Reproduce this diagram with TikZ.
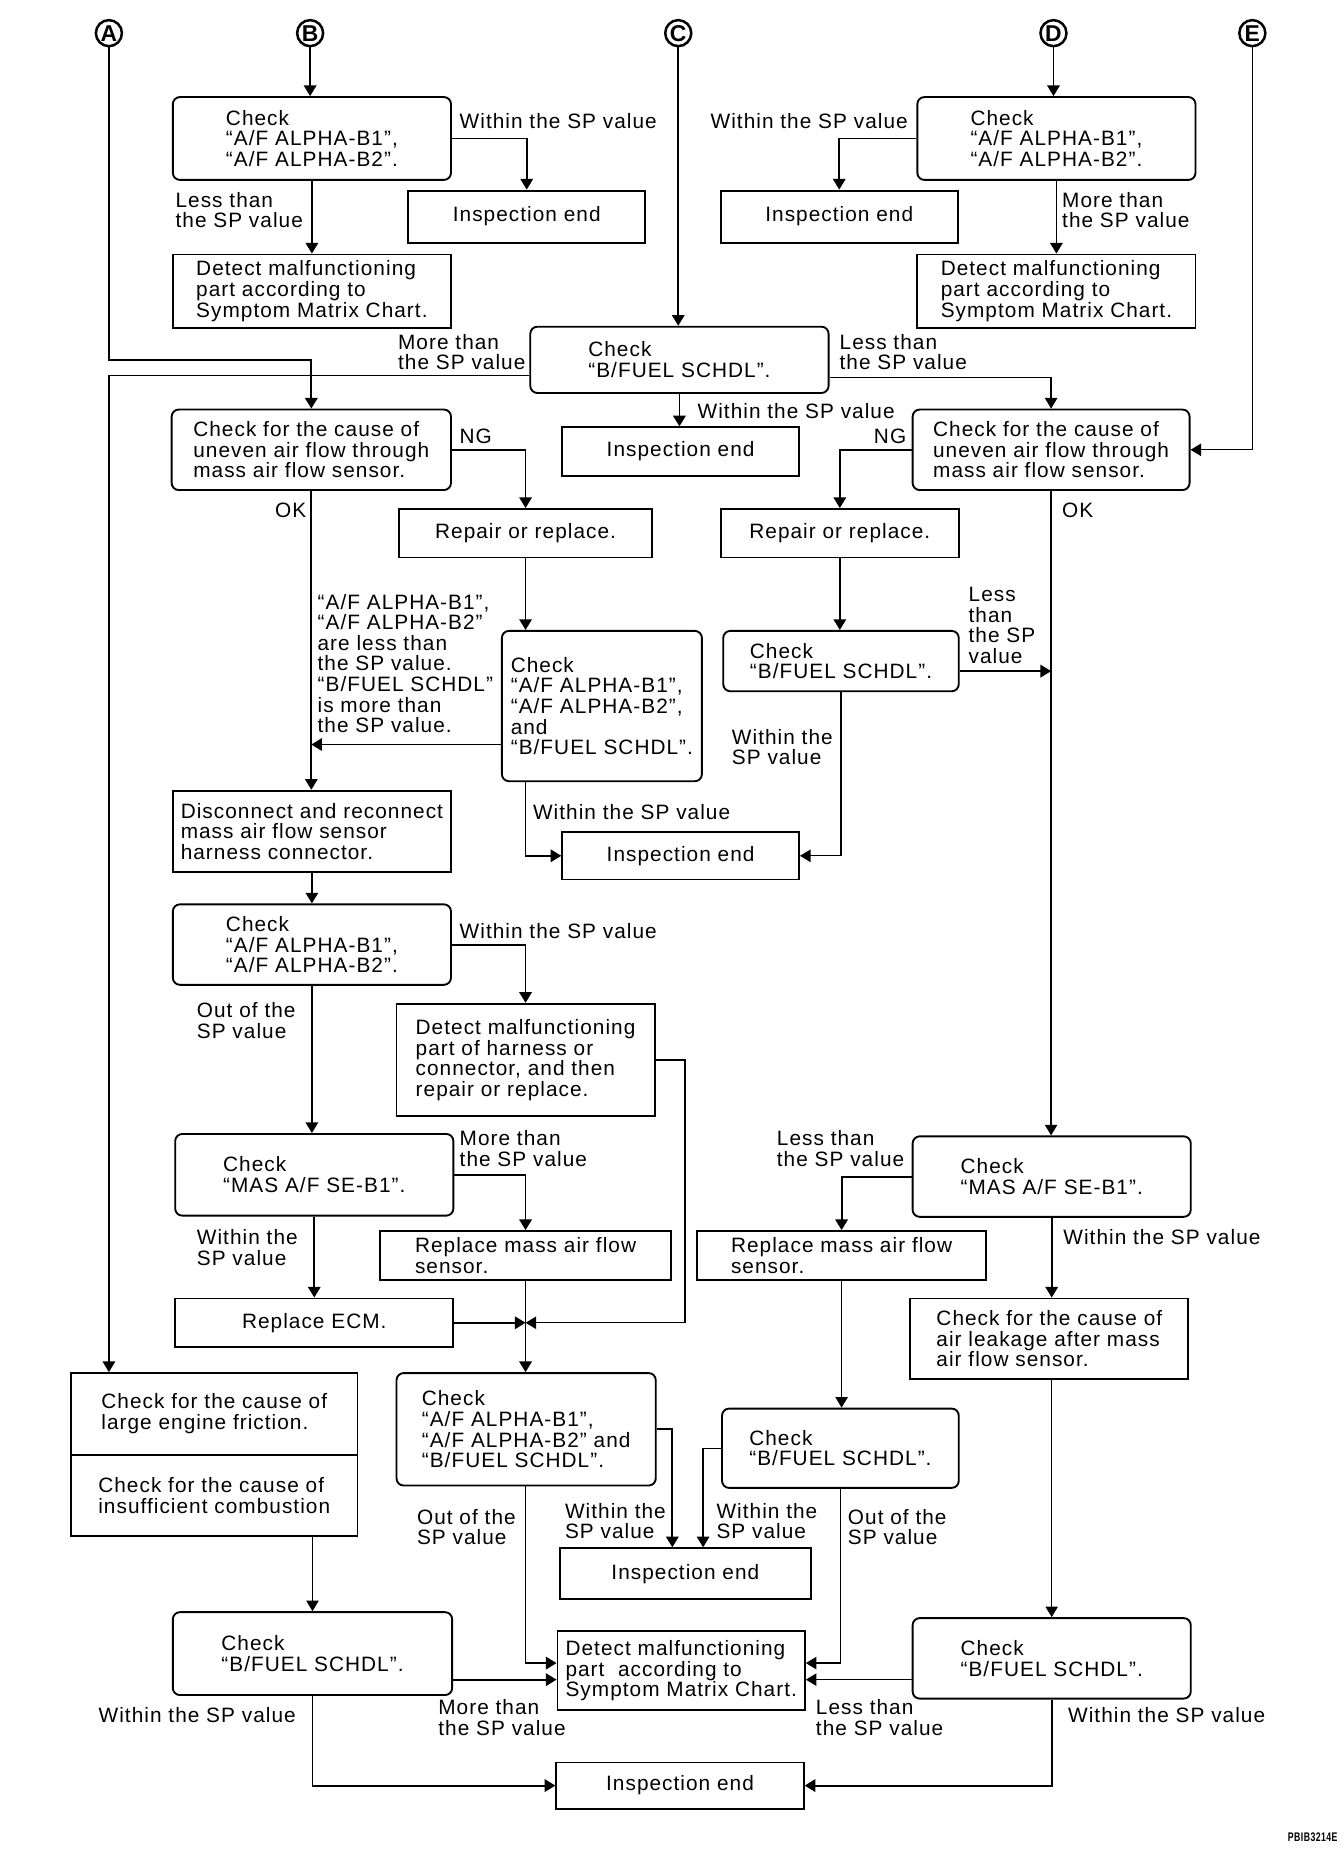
\documentclass[tikz,border=0pt]{standalone}
\usepackage{fontspec}
\setmainfont{Liberation Sans}[LetterSpace=5]
\usepackage{tikz}
\usetikzlibrary{arrows.meta,positioning,calc}
\newcommand{\boxfont}{\fontsize{10pt}{9.9pt}\selectfont}

\begin{document}
\begin{tikzpicture}[x=0.02cm,y=-0.02cm,
  every node/.style={font=\boxfont},
  box/.style={draw,line width=0.9pt,align=left,inner sep=2pt},
  rbox/.style={box,rounded corners=1.2mm},
  wh/.style 2 args={minimum width=#1*0.02cm,minimum height=#2*0.02cm},
  lbl/.style={anchor=west,align=left,inner sep=0pt},
  letter/.style={draw,circle,line width=1.2pt,inner sep=0pt,minimum size=0.44cm,
                 font=\fontsize{11pt}{11pt}\selectfont\bfseries},
  arr/.style={-{Triangle[length=1.8mm,width=2.1mm]},line width=0.9pt},
  tarr/.style={arr,line width=0.6pt}
]
\useasboundingbox (0,0) rectangle (1135,1568);

% entry points
\node[letter] (cA) at (92,28) {A};
\node[letter] (cB) at (262,28) {B};
\node[letter] (cC) at (573,28) {C};
\node[letter] (cD) at (890,28) {D};
\node[letter] (cE) at (1058,28) {E};

% top row
\node[rbox,wh={235}{70}] (chkB) at (263.5,117) {Check\\“A/F ALPHA-B1”,\\“A/F ALPHA-B2”.};
\node[box,wh={200}{44}] (endB) at (445,183) {Inspection end};
\node[box,wh={235}{62}] (detB) at (263.5,246) {Detect malfunctioning\\part according to\\Symptom Matrix Chart.};
\node[rbox,wh={235}{70}] (chkD) at (892.5,117) {Check\\“A/F ALPHA-B1”,\\“A/F ALPHA-B2”.};
\node[box,wh={200}{44}] (endD) at (709,183) {Inspection end};
\node[box,wh={235}{62}] (detD) at (892.5,246) {Detect malfunctioning\\part according to\\Symptom Matrix Chart.};
\node[rbox,wh={252}{56}] (chkC) at (574,304) {Check\\“B/FUEL SCHDL”.};
\node[box,wh={200}{41}] (endC) at (575,381.5) {Inspection end};

% uneven air flow
\node[rbox,wh={236}{68}] (unevL) at (263,380) {Check for the cause of\\uneven air flow through\\mass air flow sensor.};
\node[box,wh={214}{41}] (repL) at (444,450.5) {Repair or replace.};
\node[rbox,wh={234}{68}] (unevR) at (888,380) {Check for the cause of\\uneven air flow through\\mass air flow sensor.};
\node[box,wh={201}{41}] (repR) at (709.5,450.5) {Repair or replace.};
\node[rbox,wh={169}{127}] (chkAFB) at (508.5,596.5) {Check\\“A/F ALPHA-B1”,\\“A/F ALPHA-B2”,\\and\\“B/FUEL SCHDL”.};
\node[rbox,wh={199}{51}] (chkFR) at (710.5,558.5) {Check\\“B/FUEL SCHDL”.};
\node[box,wh={200}{40}] (endM) at (575,723) {Inspection end};

% harness connector
\node[box,wh={235}{69}] (discon) at (263.5,702.5) {Disconnect and reconnect\\mass air flow sensor\\harness connector.};
\node[rbox,wh={235}{68}] (chkAF2) at (263.5,798) {Check\\“A/F ALPHA-B1”,\\“A/F ALPHA-B2”.};
\node[box,wh={218}{95}] (detHar) at (444,895.5) {Detect malfunctioning\\part of harness or\\connector, and then\\repair or replace.};
\node[rbox,wh={235}{69}] (chkMasL) at (265.5,992.5) {Check\\“MAS A/F SE-B1”.};
\node[box,wh={246}{41}] (repMafL) at (444,1060.5) {Replace mass air flow\\sensor.};
\node[box,wh={235}{41}] (repEcm) at (265.5,1117.5) {Replace ECM.};
\node[rbox,wh={219}{95}] (chkAF3) at (444.5,1207.5) {Check\\“A/F ALPHA-B1”,\\“A/F ALPHA-B2” and\\“B/FUEL SCHDL”.};
\node[box,wh={212}{43}] (endL) at (579,1329.5) {Inspection end};

% right column
\node[rbox,wh={235}{68}] (chkMasR) at (888.5,994) {Check\\“MAS A/F SE-B1”.};
\node[box,wh={244}{41}] (repMafR) at (711,1060.5) {Replace mass air flow\\sensor.};
\node[box,wh={235}{68}] (leak) at (886.5,1131) {Check for the cause of\\air leakage after mass\\air flow sensor.};
\node[rbox,wh={200}{67}] (chkFR2) at (710,1223.5) {Check\\“B/FUEL SCHDL”.};
\node[rbox,wh={235}{68}] (chkFB) at (888.5,1401) {Check\\“B/FUEL SCHDL”.};

% bottom
\node[box,wh={242}{69}] (fricA) at (181,1194.5) {Check for the cause of\\large engine friction.};
\node[box,wh={242}{69}] (fricB) at (181,1263.5) {Check for the cause of\\insufficient combustion};
\node[rbox,wh={236}{70}] (chkFL) at (264,1397) {Check\\“B/FUEL SCHDL”.};
\node[box,wh={209}{67}] (detM) at (575.5,1411.5) {Detect malfunctioning\\part\ \ according to\\Symptom Matrix Chart.};
\node[box,wh={209}{39}] (endBot) at (574.5,1508.5) {Inspection end};

% branch labels
\node[lbl] (lb1) at (388,102) {Within the SP value};
\node[lbl] (lb2) at (148,177.5) {Less than\\the SP value};
\node[lbl] (lb3) at (600,102) {Within the SP value};
\node[lbl] (lb4) at (897,177.5) {More than\\the SP value};
\node[lbl] (lb5) at (336,297.5) {More than\\the SP value};
\node[lbl] (lb6) at (709,297.5) {Less than\\the SP value};
\node[lbl] (lb7) at (589,347) {Within the SP value};
\node[lbl] (lb8) at (388,369) {NG};
\node[lbl] (lb9) at (232,431) {OK};
\node[lbl] (lb10) at (738,369) {NG};
\node[lbl] (lb11) at (897,431) {OK};
\node[lbl] (lb12) at (268,560.5) {“A/F ALPHA-B1”,\\“A/F ALPHA-B2”\\are less than\\the SP value.\\“B/FUEL SCHDL”\\is more than\\the SP value.};
\node[lbl] (lb13) at (818,528.5) {Less\\than\\the SP\\value};
\node[lbl] (lb14) at (450,686) {Within the SP value};
\node[lbl] (lb15) at (618,631) {Within the\\SP value};
\node[lbl] (lb16) at (388,787) {Within the SP value};
\node[lbl] (lb17) at (166,862) {Out of the\\SP value};
\node[lbl] (lb18) at (388,970.5) {More than\\the SP value};
\node[lbl] (lb19) at (166,1054) {Within the\\SP value};
\node[lbl] (lb20) at (656,970.5) {Less than\\the SP value};
\node[lbl] (lb21) at (898,1045) {Within the SP value};
\node[lbl] (lb22) at (477,1285) {Within the\\SP value};
\node[lbl] (lb23) at (352,1290) {Out of the\\SP value};
\node[lbl] (lb24) at (605,1285) {Within the\\SP value};
\node[lbl] (lb25) at (716,1290) {Out of the\\SP value};
\node[lbl] (lb26) at (370,1451) {More than\\the SP value};
\node[lbl] (lb27) at (689,1451) {Less than\\the SP value};
\node[lbl] (lb28) at (83,1449) {Within the SP value};
\node[lbl] (lb29) at (902,1449) {Within the SP value};
\node[inner sep=0pt,font=\fontsize{6pt}{6pt}\selectfont\bfseries] (code) at (1109,1552) {\scalebox{0.7}[1]{PBIB3214E}};

% helper points
\coordinate (cLo) at ($(chkC.west)+(0,13)$);
\coordinate (cRo) at ($(chkC.east)+(0,15)$);
\coordinate (afbL) at ($(chkAFB.west)+(0,32.5)$);
\coordinate (frR) at ($(chkFR.east)+(0,8.5)$);
\coordinate (jn) at (repMafL.south |- repEcm.east);
\coordinate (dmL1) at ($(detM.west)+(0,-6.5)$);
\coordinate (dmL2) at ($(detM.west)+(0,7.5)$);
\coordinate (dmR1) at ($(detM.east)+(0,-6.5)$);
\coordinate (dmR2) at ($(detM.east)+(0,7.5)$);

% top
\draw[arr] (cB.south) -- (cB.south |- chkB.north);
\draw[arr] (chkB.east) -| (endB.north);
\draw[arr] (chkB.south) -- (detB.north);
\draw[arr] (cD.south) -- (cD.south |- chkD.north);
\draw[arr] (chkD.west) -| (endD.north);
\draw[arr] (chkD.south) -- (detD.north);
\draw[arr] (cC.south) -- (cC.south |- chkC.north);
\draw[arr] (chkC.south) -- (chkC.south |- endC.north);
\draw[tarr] (cLo) -| (cA |- fricA.north);
\draw[tarr] (cRo) -| (unevR.north);
\draw[arr] (cA.south) |- (unevL.north |- chkC.west) -- (unevL.north);
\draw[tarr] (cE.south) |- (unevR.east);

% left branch
\draw[arr] (unevL.east) -| (repL.north);
\draw[arr] (unevL.south) -- (unevL.south |- discon.north);
\draw[arr] (repL.south) -- (repL.south |- chkAFB.north);
\draw[arr] (afbL) -- (unevL.south |- afbL);
\draw[arr] (repL.south |- chkAFB.south) |- (endM.west);

% right branch
\draw[arr] (unevR.west) -| (repR.north);
\draw[tarr] (unevR.south) -- (unevR.south |- chkMasR.north);
\draw[arr] (repR.south) -- (repR.south |- chkFR.north);
\draw[arr] (frR) -- (unevR.south |- frR);
\draw[tarr] (chkFR.south) |- (endM.east);

% harness part
\draw[arr] (discon.south) -- (chkAF2.north);
\draw[arr] (chkAF2.east) -| (detHar.north);
\draw[arr] (chkAF2.south) -- (chkAF2.south |- chkMasL.north);
\draw[tarr] (detHar.east) -- ++(25,0) |- (jn);
\draw[arr] (chkMasL.east) -| (repMafL.north);
\draw[arr] (chkMasL.south) -- (repEcm.north);
\draw[arr] (repEcm.east) -- (jn);
\draw[arr] (repMafL.south) -- (repMafL.south |- chkAF3.north);
\draw[arr] (chkAF3.east) -| ($(endL.north)+(-11,0)$);
\draw[arr] (chkAF3.south -| repMafL.south) |- (dmL1);

% right column lower
\draw[arr] (chkMasR.west) -| (repMafR.north);
\draw[arr] (chkMasR.south) -- (chkMasR.south |- leak.north);
\draw[tarr] (repMafR.south) -- (repMafR.south |- chkFR2.north);
\draw[tarr] (chkFR2.west) -| ($(endL.north)+(15,0)$);
\draw[tarr] (chkFR2.south) |- (dmR1);
\draw[tarr] (chkFB.north |- leak.south) -- (chkFB.north);
\draw[tarr] (chkFB.west |- dmR2) -- (dmR2);
\draw[arr] (chkFB.south) |- (endBot.east);

% bottom left
\draw[tarr] (chkFL.north |- fricB.south) -- (chkFL.north);
\draw[arr] (chkFL.east |- dmL2) -- (dmL2);
\draw[arr] (chkFL.south) |- (endBot.west);
\end{tikzpicture}
\end{document}
